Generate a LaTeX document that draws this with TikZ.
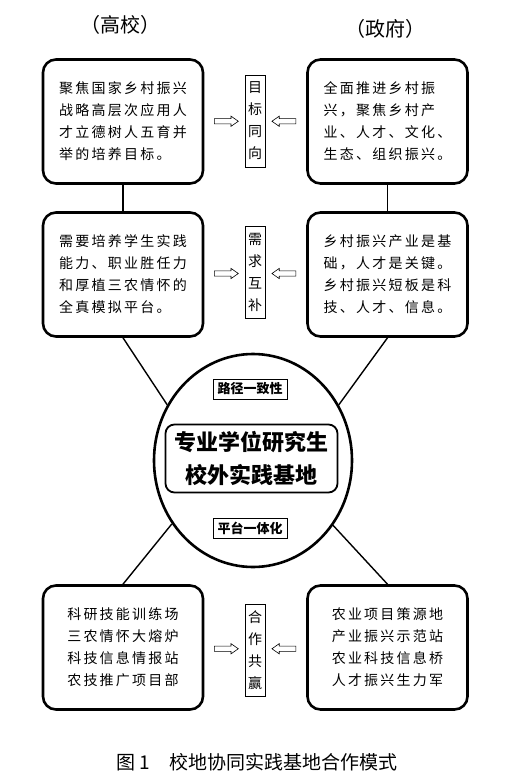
\documentclass[tikz,border=0pt]{standalone}
\usepackage{fontspec}
\usepackage{tikz}
\usetikzlibrary{shapes.geometric, shapes.arrows}
\newfontfamily\cjk[LetterSpace=16]{Noto Sans CJK SC}
\newfontfamily\cjkh{Noto Sans CJK SC}
\tikzset{
  blk/.style={draw, line width=2.6pt, rounded corners=13pt, minimum width=160pt, minimum height=124pt,
    align=left, font=\cjk\fontsize{14pt}{22pt}\selectfont},
  vtag/.style={draw, line width=0.8pt, inner sep=0pt, minimum width=20pt, minimum height=92pt,
    align=center, font=\cjkh\fontsize{14pt}{22pt}\selectfont},
  tag/.style={draw, line width=0.8pt, inner sep=0pt, minimum width=74pt, minimum height=20pt,
    font=\cjkh\bfseries\fontsize{13pt}{13pt}\selectfont},
  rarr/.style={single arrow, draw, line width=0.6pt, minimum height=24pt, inner sep=2.3pt,
    single arrow head extend=2.5pt, single arrow tip angle=70, single arrow head indent=0pt},
  larr/.style={rarr, shape border rotate=180},
  link/.style={line width=1.4pt}}

\begin{document}
\begin{tikzpicture}[x=1pt, y=-1pt]
  \useasboundingbox (0,0) rectangle (514,777);
  \node[font=\cjkh\fontsize{20pt}{20pt}\selectfont] (hsch) at (120,25) {（高校）};
  \node[font=\cjkh\fontsize{20pt}{20pt}\selectfont] (hgov) at (385,28.5) {（政府）};

  \node[blk] (tl) at (123,121.5) {聚焦国家乡村振兴\\战略高层次应用人\\才立德树人五育并\\举的培养目标。};
  \node[blk] (tr) at (387.5,121.5) {全面推进乡村振\\兴，聚焦乡村产\\业、人才、文化、\\生态、组织振兴。};
  \node[vtag] (goal) at (255,121) {目\\标\\同\\向};

  \node[blk] (ml) at (123,274.5) {需要培养学生实践\\能力、职业胜任力\\和厚植三农情怀的\\全真模拟平台。};
  \node[blk] (mr) at (387.5,274.5) {乡村振兴产业是基\\础，人才是关键。\\乡村振兴短板是科\\技、人才、信息。};
  \node[vtag] (need) at (255,272.5) {需\\求\\互\\补};

  \node[blk] (bl) at (123,647.5) {科研技能训练场\\三农情怀大熔炉\\科技信息情报站\\农技推广项目部};
  \node[blk] (br) at (387.5,647.5) {农业项目策源地\\产业振兴示范站\\农业科技信息桥\\人才振兴生力军};
  \node[vtag] (win) at (255,650) {合\\作\\共\\赢};

  \node[draw, ellipse, line width=2.6pt, minimum width=198pt, minimum height=213pt] (hub) at (253,460.5) {};
  \node[draw, line width=1.8pt, rounded corners=9pt, minimum width=172pt, minimum height=68pt, align=center,
    font=\cjkh\bfseries\fontsize{22pt}{33pt}\selectfont] (core) at (251.5,458.5) {专业学位研究生\\校外实践基地};
  \node[tag] (path) at (250,389) {路径一致性};
  \node[tag] (plat) at (250,528) {平台一体化};

  \draw[link] (tl) -- (ml);
  \draw[link] (tr) -- (mr);
  \draw[link] (ml.south) -- (hub.147);
  \draw[link] (mr.south) -- (hub.33);
  \draw[link] (bl.north) -- (hub.218);
  \draw[link] (br.north) -- (hub.321);

  \path (tl.east) -- (goal.west) node[midway, rarr] {};
  \path (goal.east) -- (tr.west) node[midway, larr] {};
  \path (ml.east) -- (need.west) node[midway, rarr] {};
  \path (need.east) -- (mr.west) node[midway, larr] {};
  \path (bl.east) -- (win.west) node[midway, rarr] {};
  \path (win.east) -- (br.west) node[midway, larr] {};

  \node[font=\cjkh\fontsize{19pt}{19pt}\selectfont] (cap) at (257,762) {图 1\quad 校地协同实践基地合作模式};
\end{tikzpicture}
\end{document}
